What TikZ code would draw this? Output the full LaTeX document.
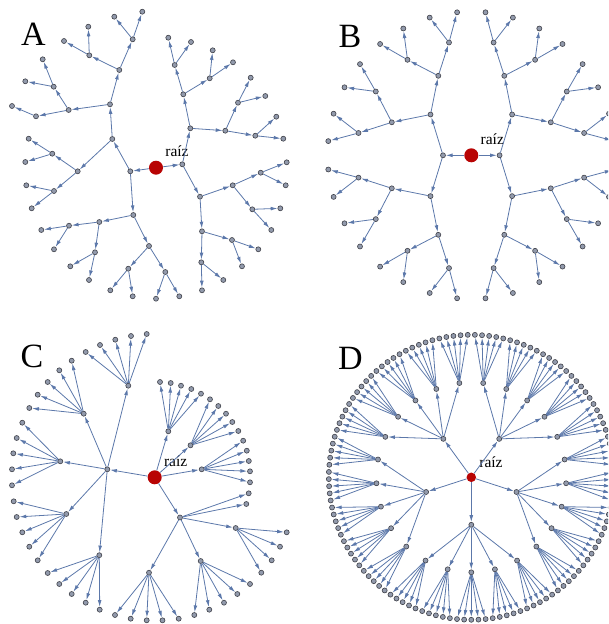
\documentclass[tikz,border=0pt]{standalone}
\usepackage{fontspec}
\setmainfont{Liberation Serif}
\usepackage{tikz}
\usetikzlibrary{arrows.meta,positioning}
\definecolor{arista}{RGB}{92,120,170}
\definecolor{vertice}{RGB}{146,154,172}
\definecolor{borde}{RGB}{62,64,72}
\definecolor{rojo}{RGB}{184,4,4}
\tikzset{
  nodo/.style={circle,draw=borde,fill=vertice,line width=0.6pt,inner sep=0pt,minimum size=5pt},
  raiz/.style={circle,fill=rojo,inner sep=0pt,minimum size=14pt},
  flecha/.style={-{Latex[length=6.8pt,width=3.8pt]},draw=arista,line width=0.8pt},
  rotulo/.style={font=\fontsize{15.5}{15.5}\selectfont,inner sep=0pt},
  letra/.style={font=\fontsize{34}{34}\selectfont,inner sep=0pt},
}

\begin{document}
\begin{tikzpicture}[x=1pt,y=-1pt]
  \useasboundingbox (0,0) rectangle (608,624);
  \clip (0,0) rectangle (608,624);

  % A: random binary tree
  \node[letra] (la) at (33.3,34.2) {A};
  \node[raiz] (a) at (156,167.7) {};
  \node[rotulo] (ra) at ([shift={(21,-16.5)}]a) {raíz};
  \foreach \n/\p/\x/\y in {a1/a/130.3/171.3, a2/a/182.3/164.3,
    a11/a1/112.3/139, a12/a1/133.3/215,
    a111/a11/110/104.3, a112/a11/77.7/171.3,
    a1111/a111/119.3/70, a1112/a111/68.7/110,
    a11111/a1111/132.7/39.3, a11112/a1111/89.3/55.3,
    a111111/a11111/114.3/16.7, a111112/a11111/142.3/11.7,
    a111121/a11112/88.3/26.7, a111122/a11112/64/41,
    a11121/a1112/53.7/86.7, a11122/a1112/36/116.3,
    a111211/a11121/42.7/59.3, a111212/a11121/25.3/81.3, a111221/a11122/12/106,
    a1121/a112/52.3/153.7, a1122/a112/54/191,
    a11211/a1121/28.7/138.7, a11212/a1121/25.3/162,
    a11221/a1122/26.3/185.3, a11222/a1122/31.7/208.3,
    a121/a12/99.3/222, a122/a12/149/246,
    a1211/a121/69/225.7, a1212/a121/95/252.3,
    a12111/a1211/41.3/230, a12112/a1211/54/249.3,
    a12121/a1212/70.3/266.3, a12122/a1212/89/280,
    a1221/a122/128.3/268.7, a1222/a122/165.3/272,
    a12211/a1221/110.3/290.3, a12212/a1221/132.7/296.3,
    a12221/a1222/156/298.7, a12222/a1222/179.3/296.3,
    a21/a2/190.3/128.3, a22/a2/200/196.7,
    a211/a21/183.3/94.3, a212/a21/225.3/130.7,
    a2111/a211/174.7/65, a2112/a211/209.7/78.3,
    a21111/a2111/168.3/37.7, a21112/a2111/191/42,
    a21121/a2112/212.7/50.3, a21122/a2112/233/62.3,
    a2121/a212/238/102.7, a2122/a212/255.3/135.7,
    a21211/a2121/250.7/77.7, a21212/a2121/265.3/96,
    a21221/a2122/276.3/116.7, a21222/a2122/283.3/138.7,
    a221/a22/232.7/185.3, a222/a22/202/231.3,
    a2211/a221/260.7/172.7, a2212/a221/252.3/209.3,
    a22111/a2211/286.7/162.3, a22112/a2211/285.7/185.3,
    a22121/a2212/280.3/208.3, a22122/a2212/271.3/230,
    a2221/a222/232/240, a2222/a222/201.3/262.3,
    a22211/a2221/258.3/249.3, a22212/a2221/242/266.3,
    a22221/a2222/223.3/280, a22222/a2222/202/290.3}{
    \node[nodo] (\n) at (\x,\y) {};
    \draw[flecha] (\p) -- (\n);
  }

  % B: complete binary tree, one quadrant mirrored four times
  \node[letra] (lb) at (350,36) {B};
  \node[raiz] (b) at (471.3,155.3) {};
  \node[rotulo] (rb) at ([shift={(21,-16.5)}]b) {raíz};
  \foreach \sx/\h in {-1/l,1/r}{
    \node[nodo] (b\h) at ({471.3+28.3*\sx},155.3) {};
    \draw[flecha] (b) -- (b\h);
    \foreach \sy/\v in {-1/t,1/b}{
      \node[nodo] (b\h\v0) at ({471.3+40.8*\sx},{155.3+40.8*\sy}) {};
      \draw[flecha] (b\h) -- (b\h\v0);
      \foreach \n/\p/\dx/\dy in {1/0/33/79.5, 2/0/79.5/33,
        11/1/22.3/112.8, 12/1/63.8/95.5, 21/2/95.5/63.8, 22/2/112.8/22.3,
        111/11/14.2/143, 112/11/41.6/137.7, 121/12/68/126.8, 122/12/91.2/111.3,
        211/21/111.3/91.2, 212/21/126.8/68, 221/22/137.7/41.6, 222/22/143/14.2}{
        \node[nodo] (b\h\v\n) at ({471.3+\dx*\sx},{155.3+\dy*\sy}) {};
        \draw[flecha] (b\h\v\p) -- (b\h\v\n);
      }
    }
  }

  % C: five children per node
  \node[letra] (lc) at (32,356.7) {C};
  \node[raiz] (c) at (154.7,477.3) {};
  \node[rotulo] (rc) at ([shift={(21,-16.5)}]c) {raíz};
  \foreach \n/\p/\x/\y in {c1/c/107.3/469.3, c2/c/168.3/431.3, c3/c/190.5/445.3,
    c4/c/201.7/469.3, c5/c/180/517.5,
    c11/c1/128.3/385.7, c12/c1/83.7/413.7, c13/c1/60.3/461.3, c14/c1/66.3/514, c15/c1/99.3/555.2,
    c111/c11/85.7/352, c112/c11/100/345, c113/c11/115.3/339.7, c114/c11/131/336, c115/c11/146.7/334,
    c121/c12/71.7/360.7, c122/c12/59.3/370.3, c123/c12/47.7/382, c124/c12/37.7/394.7, c125/c12/29.3/408,
    c131/c13/22.3/422.7, c132/c13/16.7/438, c133/c13/13.3/453.3, c134/c13/12/469.3, c135/c13/12/485.3,
    c141/c14/13.7/501.3, c142/c14/16.7/517, c143/c14/22.3/532.3, c144/c14/29.3/546.7, c145/c14/37.7/560.3,
    c151/c15/47.7/573, c152/c15/59.3/584, c153/c15/71.7/594, c154/c15/85.7/602.7, c155/c15/99.7/609.7,
    c21/c2/160/382, c22/c2/170.7/383, c23/c2/181/385.7, c24/c2/191.3/389, c25/c2/201/393.7,
    c31/c3/210/399.3, c32/c3/218.3/406, c33/c3/226/413.7, c34/c3/232.3/422, c35/c3/238.3/431,
    c41/c4/243.2/440.7, c42/c4/246.8/450.7, c43/c4/248.8/461, c44/c4/250/471.3, c45/c4/250/482.3,
    c51/c5/248.7/493.3, c52/c5/246.3/504, c53/c5/235.7/528, c54/c5/200.7/561, c55/c5/149/572.7,
    c531/c53/286.7/532.3, c532/c53/280/546.7, c533/c53/271.7/560.3, c534/c53/261.3/572.7,
    c541/c54/250/584, c542/c54/237.3/594, c543/c54/224/602.7, c544/c54/209.3/609.7, c545/c54/194.3/615,
    c551/c55/115/615, c552/c55/130.7/618.7, c553/c55/146.7/620.3, c554/c55/162.5/620.3, c555/c55/178.7/618.7}{
    \node[nodo] (\n) at (\x,\y) {};
    \draw[flecha] (\p) -- (\n);
  }

  % D: complete 5-ary tree, radial rings
  \node[letra] (ld) at (350.3,358.3) {D};
  \begin{scope}[shift={(471.3,477.3)}]
    \node[raiz,minimum size=9.5pt] (d) at (0,0) {};
    \node[rotulo] (rd) at ([shift={(19.7,-15.3)}]d) {raíz};
    \foreach \i in {0,...,4}{
      \pgfmathsetmacro\ai{90+72*\i}
      \node[nodo] (d\i) at (\ai:47.5) {};
      \draw[flecha] (d) -- (d\i);
      \foreach \j in {0,...,4}{
        \pgfmathsetmacro\aj{\ai+14.4*(\j-2)}
        \node[nodo] (d\i\j) at (\aj:95) {};
        \draw[flecha] (d\i) -- (d\i\j);
        \foreach \k in {0,...,4}{
          \pgfmathsetmacro\ak{\aj+2.88*(\k-2)}
          \node[nodo] (d\i\j\k) at (\ak:142.5) {};
          \draw[flecha] (d\i\j) -- (d\i\j\k);
        }
      }
    }
  \end{scope}
\end{tikzpicture}
\end{document}
